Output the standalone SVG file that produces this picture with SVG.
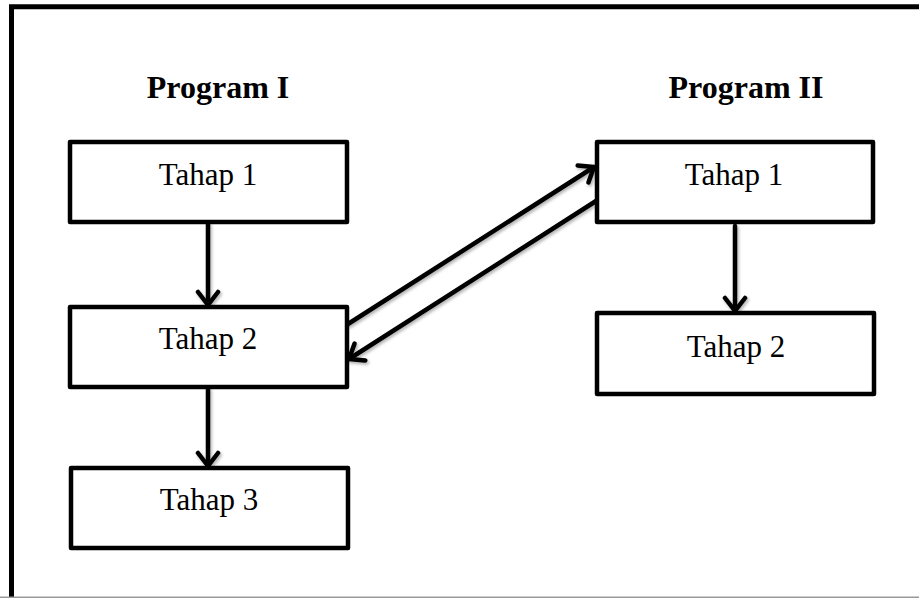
<svg xmlns="http://www.w3.org/2000/svg" width="919" height="598" viewBox="0 0 919 598">
  <style>
    .box { fill: #ffffff; stroke: #000000; stroke-width: 4.5; stroke-linejoin: round; }
    .label { font-family: "Liberation Serif", "Times New Roman", serif; font-size: 31px; fill: #000000; text-anchor: middle; }
    .title { font-family: "Liberation Serif", "Times New Roman", serif; font-size: 32px; font-weight: bold; fill: #000000; text-anchor: middle; }
    .conn { stroke: #000000; stroke-width: 4.5; fill: none; stroke-linecap: round; marker-end: url(#arrow); }
  </style>
  <defs>
    <marker id="arrow" viewBox="-16 -13 20 26" refX="0" refY="0" markerWidth="20" markerHeight="26" markerUnits="userSpaceOnUse" orient="auto">
      <path d="M -13,-10 L 0,0 L -13,10" fill="none" stroke="#000000" stroke-width="4.5" stroke-linecap="round" stroke-linejoin="round"/>
    </marker>
    <filter id="shadow" x="-20%" y="-20%" width="140%" height="140%">
      <feDropShadow dx="1.5" dy="2" stdDeviation="1.5" flood-color="#000000" flood-opacity="0.3"/>
    </filter>
  </defs>
  <rect x="0" y="0" width="919" height="598" fill="#ffffff"/>
  <g id="frame">
    <path d="M 11.5,600 V 6.8 H 925" fill="none" stroke="#000000" stroke-width="5"/>
    <line x1="0" y1="597.2" x2="919" y2="597.2" stroke="#999999" stroke-width="1.5"/>
  </g>
  <g id="title-program-1"><text class="title" x="218" y="98">Program I</text></g>
  <g id="title-program-2"><text class="title" x="746" y="98">Program II</text></g>

  <g id="connectors" filter="url(#shadow)">
    <line class="conn" x1="208" y1="224" x2="208" y2="305"/>
    <line class="conn" x1="208" y1="389" x2="208" y2="466"/>
    <line class="conn" x1="735" y1="226" x2="735" y2="311"/>
    <line class="conn" x1="348" y1="324" x2="594" y2="167"/>
    <line class="conn" x1="596" y1="201" x2="349" y2="359"/>
  </g>

  <g id="p1-tahap1">
    <rect class="box" x="70" y="142" width="277" height="80"/>
    <text class="label" x="208" y="185">Tahap 1</text>
  </g>
  <g id="p1-tahap2">
    <rect class="box" x="70" y="307" width="277" height="80"/>
    <text class="label" x="208" y="349">Tahap 2</text>
  </g>
  <g id="p1-tahap3">
    <rect class="box" x="71" y="468" width="277" height="80"/>
    <text class="label" x="209" y="510">Tahap 3</text>
  </g>
  <g id="p2-tahap1">
    <rect class="box" x="597" y="142" width="276" height="80"/>
    <text class="label" x="734" y="185">Tahap 1</text>
  </g>
  <g id="p2-tahap2">
    <rect class="box" x="597" y="313" width="277" height="81"/>
    <text class="label" x="736" y="357">Tahap 2</text>
  </g>
</svg>
